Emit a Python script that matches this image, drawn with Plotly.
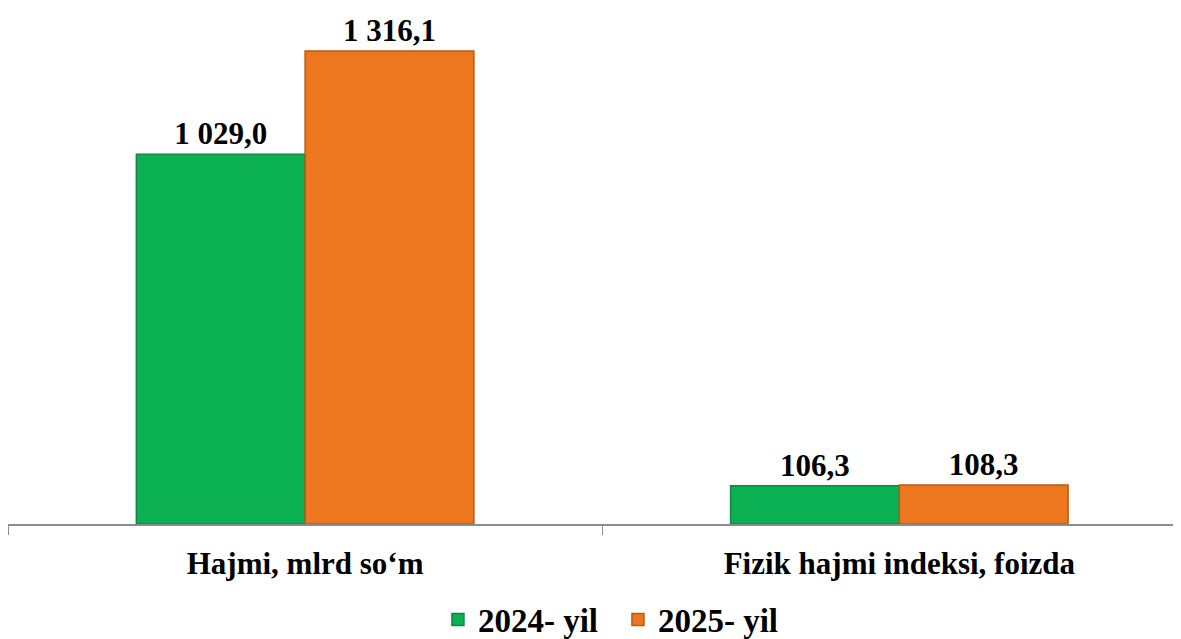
import plotly.graph_objects as go

categories = ["Hajmi, mlrd so‘m", "Fizik hajmi indeksi, foizda"]
series_names = ["2024- yil", "2025- yil"]
values_2024 = [1029.0, 106.3]
values_2025 = [1316.1, 108.3]
labels_2024 = ["1 029,0", "106,3"]
labels_2025 = ["1 316,1", "108,3"]

colors = ["#0BB052", "#EC771E"]
line_colors = ["#0A8A40", "#B85A14"]
FONT = "Liberation Serif"

fig = go.Figure()
for name, vals, labs, c, lc in zip(series_names, [values_2024, values_2025],
                                   [labels_2024, labels_2025], colors, line_colors):
    fig.add_trace(go.Bar(
        name=name, x=categories, y=vals, text=labs,
        textposition="outside", cliponaxis=False,
        textfont=dict(family=FONT, size=31, color="black", weight="bold"),
        marker=dict(color=c, line=dict(color=lc, width=1.5)),
    ))

fig.update_layout(
    width=1173, height=631,
    margin=dict(l=0, r=0, t=0, b=115, autoexpand=False),
    plot_bgcolor="white", paper_bgcolor="white",
    barmode="group", bargap=0.432, bargroupgap=0,
    font=dict(family=FONT, color="black"),
    showlegend=True,
    legend=dict(orientation="h", x=0.52, xanchor="center", y=-0.185, yanchor="middle",
                font=dict(family=FONT, size=33, weight="bold", color="black"),
                itemwidth=30, entrywidth=135, tracegroupgap=0),
    xaxis=dict(range=[-0.5, 1.474], showline=True, linecolor="#8C8C8C", linewidth=2,
               ticks="outside", tickson="boundaries", ticklen=9, tickcolor="#8C8C8C",
               tickfont=dict(family=FONT, size=31, weight="bold", color="black"),
               ticklabelstandoff=11, showgrid=False),
    yaxis=dict(range=[0, 1436], visible=False, showgrid=False),
)

fig.write_html("out.html")
